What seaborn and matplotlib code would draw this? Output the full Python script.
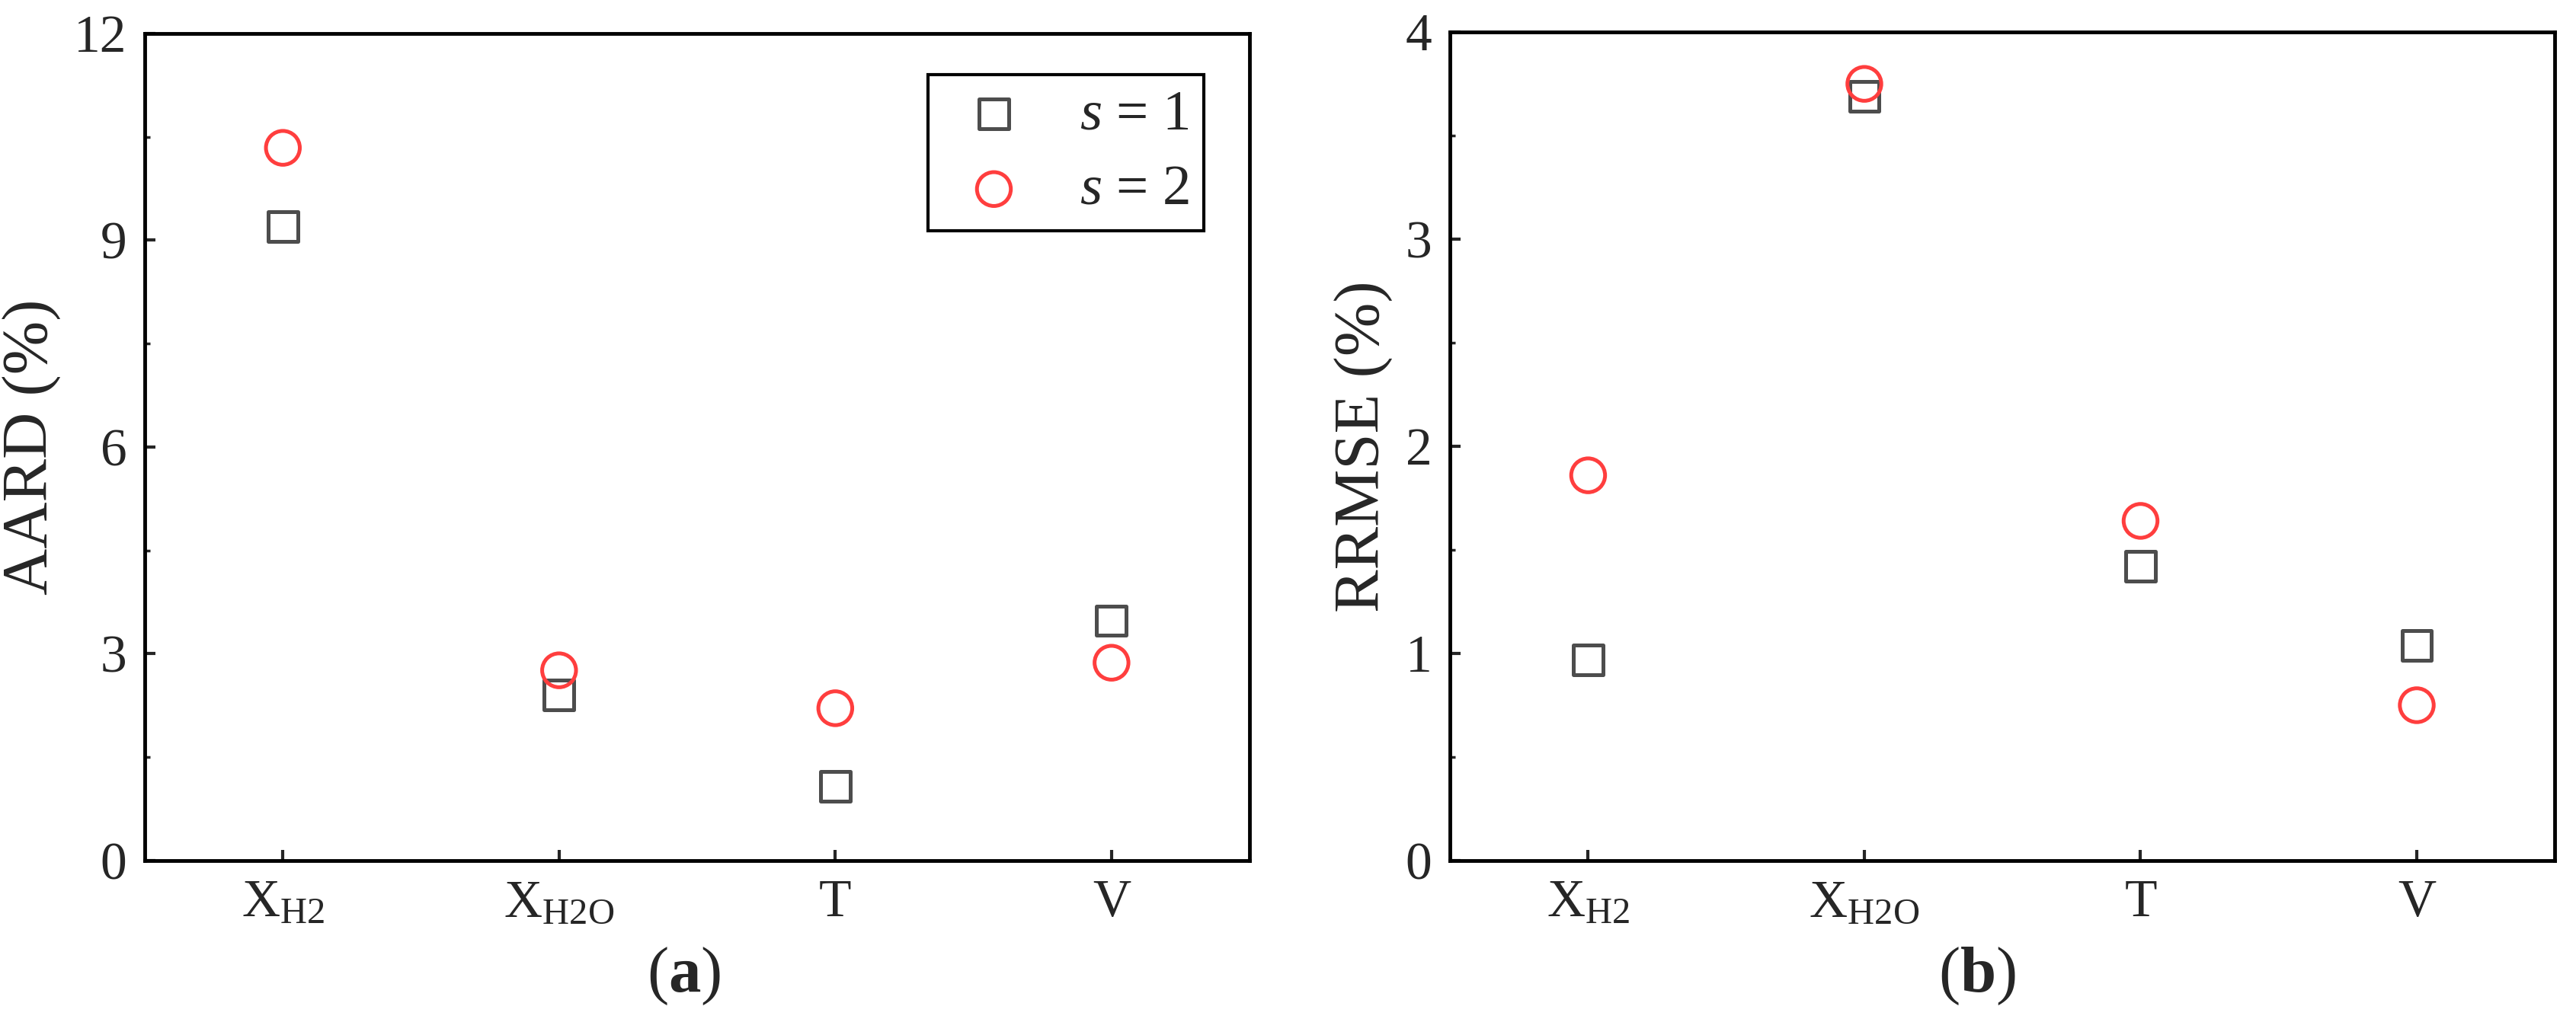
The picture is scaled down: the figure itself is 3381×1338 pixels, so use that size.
import numpy as np
import pandas as pd
import matplotlib
matplotlib.use("Agg")
import matplotlib.pyplot as plt
from matplotlib.ticker import MultipleLocator
import seaborn as sns

# Datos
categorias = ["XH2", "XH2O", "T", "V"]
etiquetas_x = [r"X$_{\mathrm{H2}}$", r"X$_{\mathrm{H2O}}$", "T", "V"]
aard_s1 = [9.20, 2.40, 1.08, 3.48]
aard_s2 = [10.34, 2.76, 2.21, 2.87]
rrmse_s1 = [0.97, 3.69, 1.42, 1.04]
rrmse_s2 = [1.86, 3.75, 1.64, 0.75]
serie_labels = [r"$s$ = 1", r"$s$ = 2"]

sns.set_style("ticks")
plt.rcParams["font.family"] = ["Liberation Serif", "DejaVu Serif"]
plt.rcParams["mathtext.fontset"] = "custom"
plt.rcParams["mathtext.rm"] = "Liberation Serif"
plt.rcParams["mathtext.it"] = "Liberation Serif:italic"
plt.rcParams["mathtext.bf"] = "Liberation Serif:bold"

gris = "#4d4d4d"
rojo = "#ff3e3e"

fig = plt.figure(figsize=(33.81, 13.38), dpi=100)
ax1 = fig.add_axes([0.0562, 0.1555, 0.4289, 0.8117])
ax2 = fig.add_axes([0.5629, 0.1555, 0.4289, 0.8130])

paneles = [
    (ax1, aard_s1, aard_s2, "AARD (%)", 12, 3, 1.5, r"($\mathbf{a}$)", 0.4876),
    (ax2, rrmse_s1, rrmse_s2, "RRMSE (%)", 4, 1, 0.5, r"($\mathbf{b}$)", 0.477),
]

for ax, s1, s2, ylab, ymax, mayor, menor, panel, xpanel in paneles:
    # cuadrados primero, circulos encima
    sns.scatterplot(x=categorias, y=s1, ax=ax, marker="s", s=28**2,
                    facecolor="none", edgecolor=gris, linewidth=3.6,
                    label=serie_labels[0], zorder=3)
    sns.scatterplot(x=categorias, y=s2, ax=ax, marker="o", s=32**2,
                    facecolor="none", edgecolor=rojo, linewidth=3.6,
                    label=serie_labels[1], zorder=4)

    ax.set_xlim(-0.5, 3.5)
    ax.set_ylim(0, ymax)
    ax.set_xticks(range(len(categorias)))
    ax.set_xticklabels(etiquetas_x)
    ax.yaxis.set_major_locator(MultipleLocator(mayor))
    ax.yaxis.set_minor_locator(MultipleLocator(menor))

    ax.tick_params(axis="both", which="major", direction="in", length=10,
                   width=3, labelsize=50, top=False, right=False)
    ax.tick_params(axis="y", which="major", pad=17)
    ax.tick_params(axis="x", which="major", pad=18)
    ax.tick_params(axis="y", which="minor", direction="in", length=5,
                   width=2.5, right=False)
    for sp in ax.spines.values():
        sp.set_linewidth(3.5)
        sp.set_color("black")

    ax.set_ylabel(ylab, fontsize=61, labelpad=12)
    ax.set_xlabel("")
    ax.text(xpanel, -0.14, panel, transform=ax.transAxes, fontsize=61,
            ha="center", va="center")

leg = ax1.legend(loc="upper right", bbox_to_anchor=(0.9586, 0.950),
                 borderaxespad=0, fontsize=54, frameon=True, fancybox=False,
                 edgecolor="black", framealpha=1, borderpad=0.25,
                 handlelength=1.8, handletextpad=0.6, labelspacing=0.4)
leg.get_frame().set_linewidth(3)
ax2.legend().remove()

fig.savefig("out.png", dpi=100)
